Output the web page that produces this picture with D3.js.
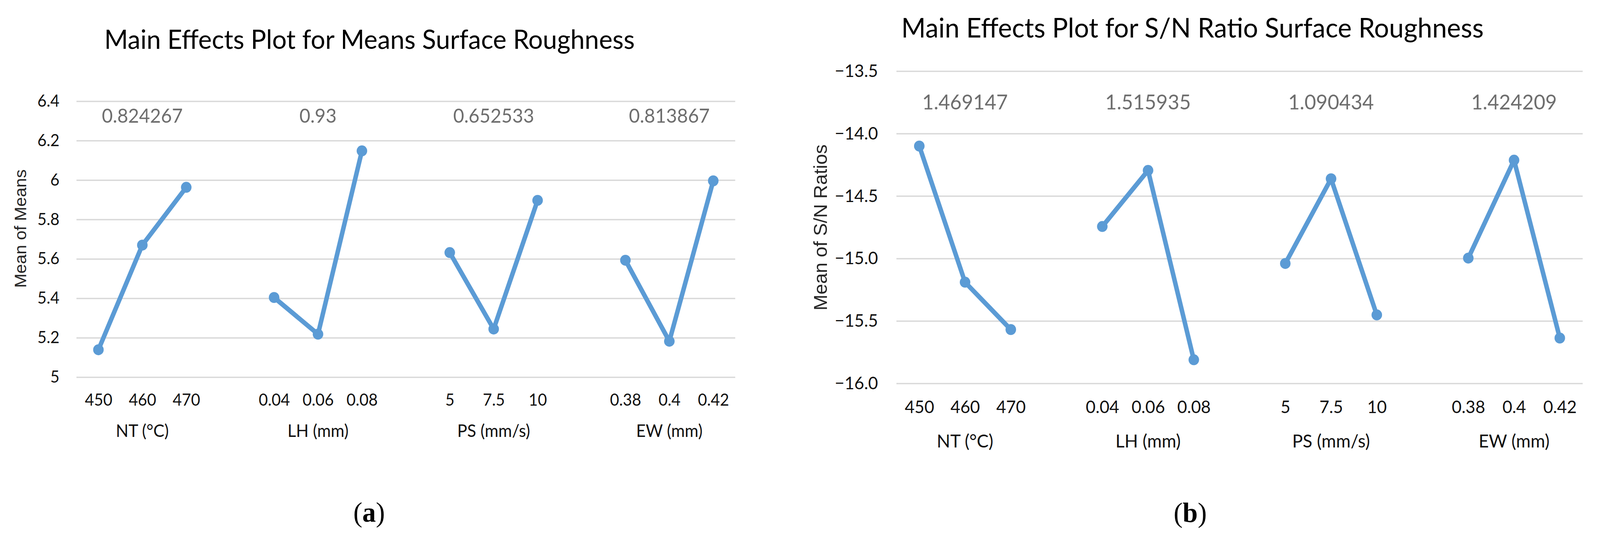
<!DOCTYPE html>
<html>
<head>
<meta charset="utf-8">
<script src="https://cdn.jsdelivr.net/npm/d3@7"></script>
<style>
html, body { margin: 0; padding: 0; background: #fff; overflow: hidden; }
svg { display: block; }
</style>
</head>
<body>
<script>
// factors and their three levels
const factors = ['NT (°C)', 'LH (mm)', 'PS (mm/s)', 'EW (mm)'];
const levels = [
    ['450', '460', '470'],
    ['0.04', '0.06', '0.08'],
    ['5', '7.5', '10'],
    ['0.38', '0.4', '0.42']
];

const meansValues = [
    [5.139, 5.670, 5.963],
    [5.404, 5.218, 6.148],
    [5.632, 5.244, 5.897],
    [5.593, 5.182, 5.996]
];
const snValues = [
    [-14.100, -15.190, -15.569],
    [-14.744, -14.295, -15.811],
    [-15.040, -14.362, -15.452],
    [-14.997, -14.213, -15.637]
];
const meansDeltas = ['0.824267', '0.93', '0.652533', '0.813867'];
const snDeltas = ['1.469147', '1.515935', '1.090434', '1.424209'];

const meansTicks = [5, 5.2, 5.4, 5.6, 5.8, 6, 6.2, 6.4];
const snTicks = [-16, -15.5, -15, -14.5, -14, -13.5];

const width = 4248;
const height = 1392;
const blue = '#5b9bd5';
const calibri = 'Lato, "Open Sans", sans-serif';

// category slots: 3 levels per factor, one empty slot between factors
const cats = [];
factors.forEach((f, i) => {
    levels[i].forEach((l, j) => cats.push({key: i + '-' + j, label: l}));
    if (i < factors.length - 1) cats.push({key: 'gap' + i, label: ''});
});

const svg = d3.select('body')
    .append('svg')
    .attr('viewBox', '0 0 ' + width + ' ' + height)
    .attr('preserveAspectRatio', 'none')
    .style('width', '100vw')
    .style('height', '100vh');

svg.append('rect')
    .attr('width', width)
    .attr('height', height)
    .attr('fill', '#fff');

const panels = [
    {
        title: 'Main Effects Plot for Means Surface Roughness',
        yTitle: 'Mean of Means',
        values: meansValues,
        deltas: meansDeltas,
        ticks: meansTicks,
        fmt: d => String(d),
        tag: 'a',
        left: 203, right: 1952, top: 259, bottom: 965,
        titleX: 981, titleY: 125, titleSize: 68,
        yTitleX: 70, yTitleY: 585, yTitleSize: 44,
        deltaY: 314, deltaSize: 50,
        tickY: 1038, tickSize: 42,
        groupY: 1118, groupSize: 44,
        tagX: 980, tagY: 1335,
        tickPad: 45
    },
    {
        title: 'Main Effects Plot for S/N Ratio Surface Roughness',
        yTitle: 'Mean of S/N Ratios',
        values: snValues,
        deltas: snDeltas,
        ticks: snTicks,
        fmt: d => (d < 0 ? '\u2212' : '') + Math.abs(d).toFixed(1),
        tag: 'b',
        left: 2380, right: 4202, top: 182, bottom: 981,
        titleX: 3166, titleY: 96, titleSize: 70,
        yTitleX: 2196, yTitleY: 582, yTitleSize: 49,
        deltaY: 280, deltaSize: 53,
        tickY: 1057, tickSize: 45,
        groupY: 1145, groupSize: 47,
        tagX: 3160, tagY: 1336,
        tickPad: 49
    }
];

panels.forEach(p => {
    const xScale = d3.scalePoint()
        .domain(cats.map(c => c.key))
        .range([p.left, p.right])
        .padding(0.5);

    const yScale = d3.scaleLinear()
        .domain([p.ticks[0], p.ticks[p.ticks.length - 1]])
        .range([p.bottom, p.top]);

    // gridlines + y tick labels
    const yAxis = d3.axisLeft(yScale)
        .tickValues(p.ticks)
        .tickSize(-(p.right - p.left))
        .tickPadding(p.tickPad)
        .tickFormat(p.fmt);

    svg.append('g')
        .attr('transform', 'translate(' + p.left + ',0)')
        .call(yAxis)
        .call(g => g.select('.domain').remove())
        .call(g => g.selectAll('line').attr('stroke', '#d9d9d9').attr('stroke-width', 3.5))
        .call(g => g.selectAll('text')
            .attr('fill', '#111')
            .style('font', p.tickSize + 'px ' + calibri));

    // level labels
    const labelOf = {};
    cats.forEach(c => labelOf[c.key] = c.label);
    const xAxis = d3.axisBottom(xScale)
        .tickSize(0)
        .tickFormat(k => labelOf[k]);

    svg.append('g')
        .attr('transform', 'translate(0,' + p.tickY + ')')
        .call(xAxis)
        .call(g => g.select('.domain').remove())
        .call(g => g.selectAll('text')
            .attr('y', 0)
            .attr('dy', 0)
            .attr('fill', '#111')
            .style('font', p.tickSize + 'px ' + calibri));

    // factor names under the middle level
    svg.selectAll(null)
        .data(factors)
        .enter()
        .append('text')
        .attr('x', (d, i) => xScale(i + '-1'))
        .attr('y', p.groupY)
        .attr('text-anchor', 'middle')
        .attr('fill', '#111')
        .style('font', p.groupSize + 'px ' + calibri)
        .text(d => d);

    // delta values above each factor
    svg.selectAll(null)
        .data(p.deltas)
        .enter()
        .append('text')
        .attr('x', (d, i) => xScale(i + '-1'))
        .attr('y', p.deltaY)
        .attr('text-anchor', 'middle')
        .attr('fill', '#6e6e6e')
        .style('font', p.deltaSize + 'px ' + calibri)
        .text(d => d);

    const line = d3.line()
        .x(d => xScale(d.key))
        .y(d => yScale(d.v));

    p.values.forEach((vals, i) => {
        const pts = vals.map((v, j) => ({key: i + '-' + j, v: v}));
        svg.append('path')
            .datum(pts)
            .attr('d', line)
            .attr('fill', 'none')
            .attr('stroke', blue)
            .attr('stroke-width', 12)
            .attr('stroke-linejoin', 'round');
        svg.selectAll(null)
            .data(pts)
            .enter()
            .append('circle')
            .attr('cx', d => xScale(d.key))
            .attr('cy', d => yScale(d.v))
            .attr('r', 14)
            .attr('fill', blue);
    });

    svg.append('text')
        .attr('x', p.titleX)
        .attr('y', p.titleY)
        .attr('text-anchor', 'middle')
        .style('font', p.titleSize + 'px ' + calibri)
        .text(p.title);

    svg.append('text')
        .attr('transform', 'translate(' + p.yTitleX + ',' + p.yTitleY + ') rotate(-90)')
        .attr('text-anchor', 'middle')
        .attr('fill', '#262626')
        .style('font', p.yTitleSize + 'px "Liberation Sans", Arial, sans-serif')
        .text(p.yTitle);

    const tag = svg.append('text')
        .attr('x', p.tagX)
        .attr('y', p.tagY)
        .attr('text-anchor', 'middle')
        .style('font', '72px "Liberation Serif", serif');
    tag.append('tspan').text('(');
    tag.append('tspan').attr('font-weight', 'bold').text(p.tag);
    tag.append('tspan').text(')');
});
</script>
</body>
</html>
